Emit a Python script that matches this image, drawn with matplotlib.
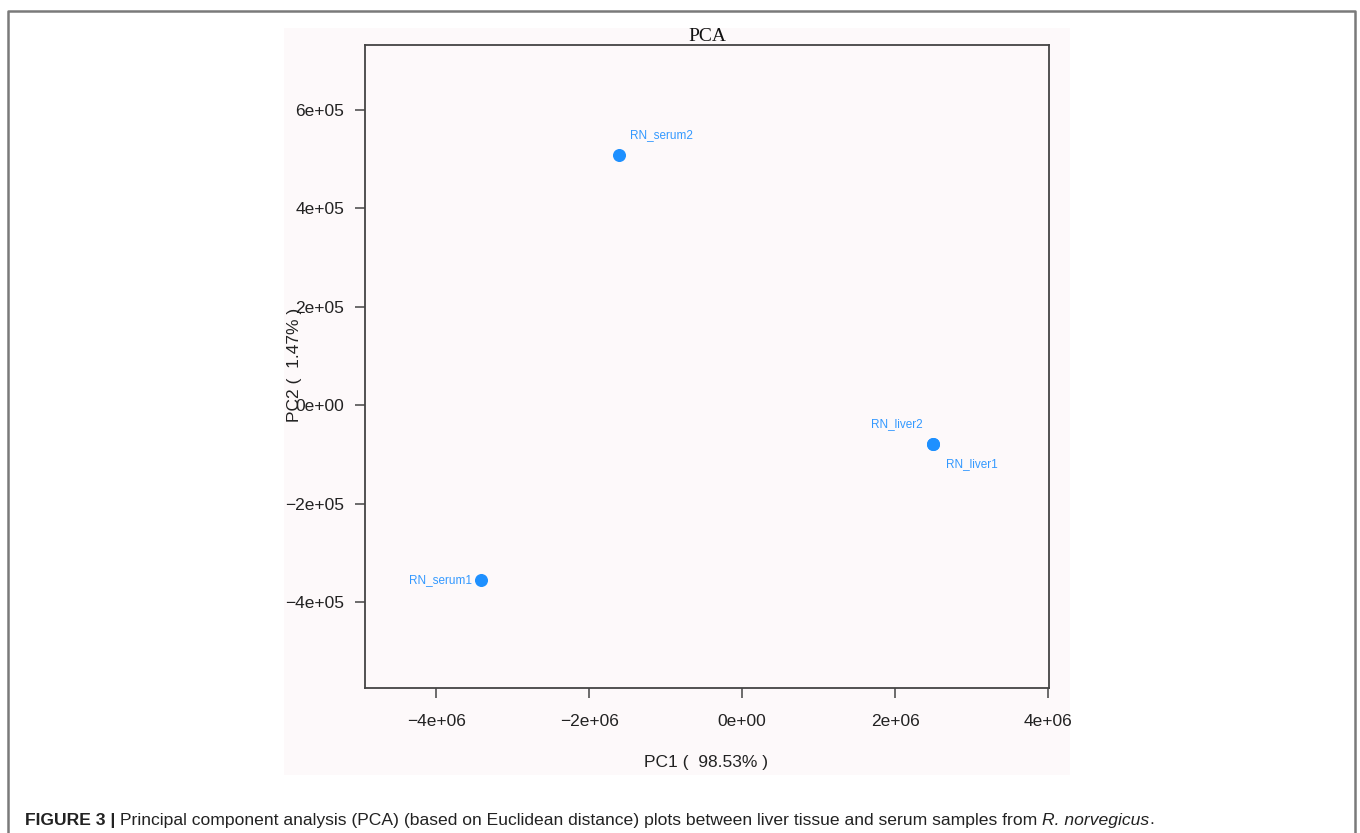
import matplotlib
matplotlib.use('Agg')

import matplotlib.pyplot as plt
from matplotlib.patches import Rectangle
from matplotlib.lines import Line2D

# PCA scores
samples = ['RN_serum2', 'RN_liver2', 'RN_liver1', 'RN_serum1']
pc1 = [-1.61e6, 2.50e6, 2.50e6, -3.41e6]
pc2 = [5.08e5, -0.79e5, -0.79e5, -3.56e5]
label_offsets = [(8, 10), (-8, 10), (9, -10), (-7, 0)]
label_align = [('left', 'bottom'), ('right', 'bottom'), ('left', 'top'), ('right', 'center')]

xticks = [-4e6, -2e6, 0, 2e6, 4e6]
yticks = [-4e5, -2e5, 0, 2e5, 4e5, 6e5]
xlabel = 'PC1 (  98.53% )'
ylabel = 'PC2 (  1.47% )'

W, H = 1360, 833
plt.rcParams['font.family'] = ['Liberation Sans', 'DejaVu Sans']
fig = plt.figure(figsize=(W / 100, H / 100), dpi=100)

def fx(px):
    return px / W

def fy(py):
    return 1 - py / H

# outer frame of the figure box (open at the bottom)
frame_col = '#7a7a7a'
fig.add_artist(Line2D([fx(8), fx(8), fx(1355), fx(1355)], [0, fy(11), fy(11), 0],
                      transform=fig.transFigure, color=frame_col, lw=1.8))

# light pink panel behind the plot
fig.add_artist(Rectangle((fx(284), fy(775)), fx(1070) - fx(284), fy(28) - fy(775),
                         transform=fig.transFigure, facecolor='#fdf9fa', edgecolor='none', zorder=0))

ax = fig.add_axes([fx(365), fy(688), fx(1049) - fx(365), fy(45) - fy(688)])
ax.set_facecolor('#fdf9fa')
ax.scatter(pc1, pc2, s=70, color='#1e90ff', zorder=3)
for name, x, y, off, (ha, va) in zip(samples, pc1, pc2, label_offsets, label_align):
    ax.annotate(name, (x, y), xytext=off, textcoords='offset points',
                ha=ha, va=va, fontsize=8.5, color='#3399ff')

ax.set_xlim(-4.93e6, 4.01e6)
ax.set_ylim(-5.75e5, 7.32e5)
ax.set_xticks(xticks)
ax.set_yticks(yticks)
ax.set_xticklabels(['\u22124e+06', '\u22122e+06', '0e+00', '2e+06', '4e+06'])
ax.set_yticklabels(['\u22124e+05', '\u22122e+05', '0e+00', '2e+05', '4e+05', '6e+05'])
ax.tick_params(length=7, width=1.1, color='#444444', labelsize=12.5, pad=8, labelcolor='#222222')
ax.tick_params(axis='x', pad=12)
for sp in ax.spines.values():
    sp.set_color('#444444')
    sp.set_linewidth(1.3)

ax.set_title('PCA', family=['Liberation Serif', 'DejaVu Serif'], fontsize=14, pad=2, color='#111111')
fig.text(fx(706), fy(762), xlabel, ha='center', va='center', fontsize=12.5, color='#222222')
fig.text(fx(294), fy(365), ylabel, ha='center', va='center', rotation=90, fontsize=12.5, color='#222222')

# caption with mixed styles
fig.canvas.draw()
renderer = fig.canvas.get_renderer()
parts = [('FIGURE 3 | ', 'bold', 'normal'),
         ('Principal component analysis (PCA) (based on Euclidean distance) plots between liver tissue and serum samples from ', 'normal', 'normal'),
         ('R. norvegicus', 'normal', 'italic'),
         ('.', 'normal', 'normal')]
xpos = 25
for txt, weight, style in parts:
    t = fig.text(fx(xpos), fy(820), txt, ha='left', va='center', fontsize=12.6,
                 fontweight=weight, fontstyle=style, color='#222222')
    bb = t.get_window_extent(renderer)
    xpos += bb.width

fig.savefig('out.png', dpi=100)
